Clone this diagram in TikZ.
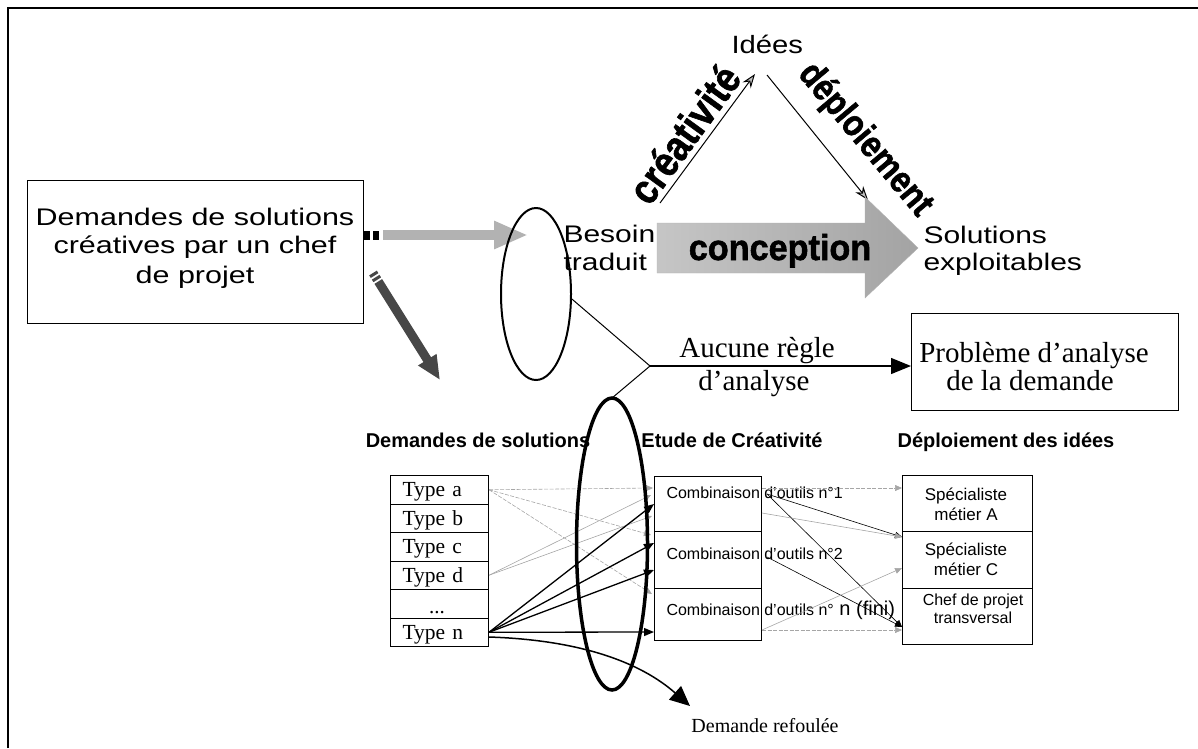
\documentclass[tikz,border=0pt]{standalone}
\usepackage{graphicx}
\usepackage{fontspec}
\setmainfont{Liberation Serif}
\newfontfamily\arial{Liberation Sans}
\newfontfamily\heavy{Liberation Sans Bold}[FakeBold=1.6]
\usetikzlibrary{arrows.meta,shapes.geometric,calc}
\newcommand{\hwide}[2][1.25]{\scalebox{#1}[1]{#2}}
\begin{document}
\begin{tikzpicture}[x=1pt,y=-1pt,
  boxnode/.style={draw,line width=1pt,inner sep=0pt,anchor=north west},
  rownode/.style={boxnode,minimum width=98pt,minimum height=28.5pt,text width=74pt,inner xsep=12pt,inner ysep=0pt,align=left,text depth=0pt,font=\fontsize{21.5}{21.5}\selectfont},
  bigsans/.style={font=\arial\fontsize{24}{28}\selectfont},
  midsans/.style={font=\arial\fontsize{17}{19}\selectfont},
  smallsans/.style={font=\arial\fontsize{16}{18}\selectfont},
  hdr/.style={font=\arial\bfseries\fontsize{20}{22}\selectfont,anchor=base},
  serifbig/.style={font=\fontsize{29}{32}\selectfont,anchor=base},
  smalltip/.style={-{Triangle[length=7pt,width=6pt]}},
  graylink/.style={gray!70,line width=0.6pt,smalltip},
  graydash/.style={gray!70,line width=0.6pt,dash pattern=on 4pt off 1.5pt,smalltip},
  blacklink/.style={black,line width=0.6pt,smalltip},
  boldlink/.style={black,line width=1.3pt,-{Triangle[length=10pt,width=8pt]}},
  triarrow/.style={line width=1pt,-{Stealth[length=14pt,width=10pt,fill=gray!50]}}]
\useasboundingbox (0,0) rectangle (1198,748);

% frame
\draw[line width=1.5pt] (8,748) -- (8,8) -- (1198,8);

% main request box
\node[boxnode,line width=1.2pt,minimum width=336pt,minimum height=143pt] (dem) at (27,180) {};
\node[bigsans,anchor=base] (dem1) at (195,225) {\hwide[1.27]{Demandes de solutions}};
\node[bigsans,anchor=base] (dem2) at (195,253) {\hwide[1.27]{créatives par un chef}};
\node[bigsans,anchor=base] (dem3) at (195,283) {\hwide[1.27]{de projet}};

% top triangle
\node[font=\arial\fontsize{25}{28}\selectfont,anchor=base west] (idees) at (728,53) {\hwide[1.17]{Idées}};
\node[bigsans,anchor=base west] (besoin) at (560,242) {\hwide{Besoin}};
\node[bigsans,anchor=base west] (traduit) at (560,270) {\hwide{traduit}};
\node[bigsans,anchor=base west] (sol) at (920,243) {\hwide{Solutions}};
\node[bigsans,anchor=base west] (expl) at (920,270) {\hwide{exploitables}};

\coordinate (cr0) at (660,203);
\coordinate (cr1) at (755,74);
\coordinate (dp0) at (767,75);
\coordinate (dp1) at (868,200);
\draw[triarrow] (cr0) -- (cr1);
\draw[triarrow] (dp0) -- (dp1);
\node[rotate=54,font=\heavy\fontsize{42}{42}\selectfont] (creat) at (684,134) {\hwide[0.86]{créativité}};
\node[rotate=-50,font=\heavy\fontsize{37}{37}\selectfont] (deplo) at (865,140) {\hwide[0.86]{déploiement}};

% conception arrow
\path[left color=gray!45,right color=gray!72,draw=gray!60]
  (657,223) -- (865,223) -- (865,197) -- (918,248) -- (865,298) -- (865,273) -- (657,273) -- cycle;
\node[font=\heavy\fontsize{36}{36}\selectfont,anchor=base] (concep) at (780,260) {\hwide[0.95]{conception}};

% fat arrows from the request box
\fill[black] (364,231) rectangle (370,240);
\fill[black] (373,231) rectangle (379,240);
\coordinate (h1) at (528,235);
\draw[line width=10pt,gray!60,-{Triangle[length=34pt,width=26pt]}] (383,235) -- (h1);
\coordinate (d0) at (373,273);
\coordinate (d1) at (440,380);
\draw[line width=9pt,black!72,dash pattern=on 3pt off 2pt on 3pt off 2pt on 300pt,-{Triangle[length=24pt,width=20pt]}] (d0) -- (d1);

% ellipses
\node[draw,ellipse,line width=2pt,minimum width=70pt,minimum height=172pt,inner sep=0pt] (e1) at (536,294) {};

% fork
\coordinate (fork) at (650,366);
\node[boxnode,line width=1.2pt,minimum width=267pt,minimum height=97pt] (prob) at (911,313) {};
\draw[line width=1pt] (e1.-8) -- (fork) -- (612,398);
\draw[line width=1.3pt,-{Triangle[length=20pt,width=16pt]}] (fork) -- (prob.west |- fork);
\node[serifbig] (auc1) at (757,357) {Aucune règle};
\node[serifbig] (auc2) at (754,390) {d’analyse};
\node[serifbig] (pb1) at (1034,362) {Problème d’analyse};
\node[serifbig] (pb2) at (1030,390) {de la demande};

% headers
\node[hdr] (h1t) at (478,447) {Demandes de solutions};
\node[hdr] (h2t) at (732,447) {Etude de Créativité};
\node[hdr] (h3t) at (1006,447) {Déploiement des idées};

% type rows
\node[rownode] (ta) at (390,475) {Type a};
\node[rownode] (tb) at (390,503.5) {Type b};
\node[rownode] (tc) at (390,532) {Type c};
\node[rownode] (td) at (390,560.5) {Type d};
\node[rownode] (tdots) at (390,589) {};
\node[rownode] (tn) at (390,617.5) {Type n};
\node[font=\fontsize{21}{21}\selectfont,anchor=base] (dots) at (437,613) {...};

% combination boxes
\node[boxnode,minimum width=107pt,minimum height=55pt] (c1) at (654,476) {};
\node[boxnode,minimum width=107pt,minimum height=57pt] (c2) at (654,531) {};
\node[boxnode,minimum width=107pt,minimum height=52pt] (c3) at (654,588) {};
\node[smallsans,anchor=base west] (c1t) at (663,498) {Combinaison d’outils n°1};
\node[smallsans,anchor=base west] (c2t) at (663,559) {Combinaison d’outils n°2};
\node[smallsans,anchor=base west] (c3t) at (663,615) {Combinaison d’outils n°{\fontsize{20}{20}\selectfont{} n (fini)}};

% specialist boxes
\node[boxnode,minimum width=130pt,minimum height=56pt] (s1) at (902,475) {};
\node[boxnode,minimum width=130pt,minimum height=57pt] (s2) at (902,531) {};
\node[boxnode,minimum width=130pt,minimum height=56pt] (s3) at (902,588) {};
\node[midsans,anchor=base] (s1a) at (966,500) {Spécialiste};
\node[midsans,anchor=base] (s1b) at (966,520) {métier A};
\node[midsans,anchor=base] (s2a) at (966,555) {Spécialiste};
\node[midsans,anchor=base] (s2b) at (966,575) {métier C};
\node[smallsans,anchor=base] (s3a) at (973,605) {Chef de projet};
\node[smallsans,anchor=base] (s3b) at (973,623) {transversal};

% left connectors
\draw[graydash] (ta.east) -- ($(c1.north west)+(-1,12)$);
\draw[graydash] (ta.east) -- ($(c2.north west)+(-3,4)$);
\draw[graydash] (ta.east) -- ($(c3.north west)+(-2,6)$);
\draw[graylink] (td.east) -- ($(c1.north west)+(-3,19)$);
\draw[graylink] (td.east) -- ($(c1.north west)+(-2,40)$);
\draw[boldlink] (tn.east) -- ($(c1.north west)+(0,28)$);
\draw[boldlink] (tn.east) -- ($(c2.north west)+(0,12)$);
\draw[boldlink] (tn.east) -- ($(c2.north west)+(0,39)$);
\draw[boldlink] (tn.east) -- ($(c3.north west)+(0,44)$);

% rejected demand
\node[font=\fontsize{20}{22}\selectfont,anchor=base] (refo) at (765,732) {Demande refoulée};
\coordinate (rf) at (690,706);
\draw[line width=1.5pt,-{Triangle[length=20pt,width=18pt]}] ($(tn.south east)+(0,-10)$) .. controls (580,640) and (640,662) .. (rf);

% right connectors
\draw[graydash] ($(c1.north east)+(0,12)$) -- ($(s1.north west)+(0,13)$);
\draw[blacklink] ($(c1.north east)+(5,18)$) -- ($(s2.north west)+(0,6)$);
\draw[blacklink] ($(c1.north east)+(5,18)$) -- ($(s3.north west)+(0,39)$);
\draw[graylink] ($(c1.north east)+(0,37)$) -- ($(s2.north west)+(0,6)$);
\draw[blacklink] ($(c2.north east)+(5,26)$) -- ($(s3.north west)+(0,39)$);
\draw[graylink] ($(c3.north east)+(0,42)$) -- ($(s2.north west)+(0,37)$);
\draw[graydash] ($(c3.north east)+(0,42)$) -- ($(s3.north west)+(0,42)$);

% second ellipse on top
\node[draw,ellipse,line width=3.5pt,minimum width=71pt,minimum height=292pt,inner sep=0pt] (e2) at (612,544) {};
\end{tikzpicture}
\end{document}
